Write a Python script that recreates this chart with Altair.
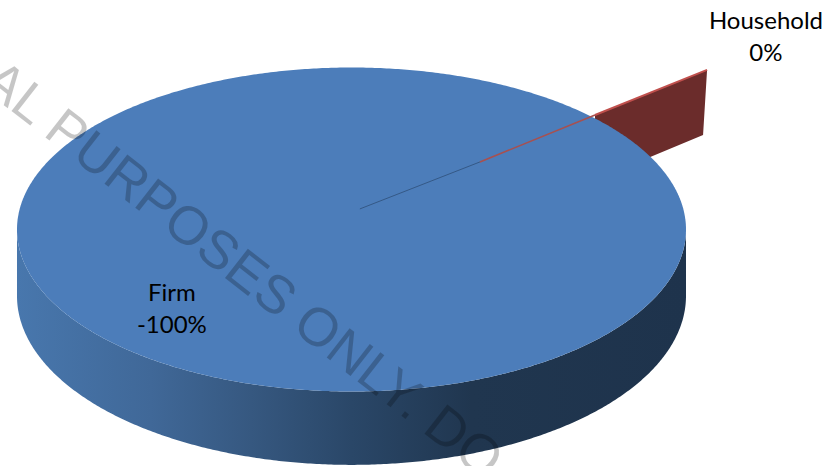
import numpy as np
import pandas as pd
import altair as alt

# Pie shares and their captions
segments = ["Firm", "Household"]
shares = [-100, 0]

# Pie-disc units: the rim is the unit circle and the scales foreshorten it
x_domain = [-1.0508, 1.4335]
y_domain = [-1.4599, 1.4167]
side_drop = -0.41
side_stretch = 1.043

# Detached Household sliver, in the same units
sliver_x = [0.728, 1.051, 1.063]
sliver_top = [0.707, 0.975, 0.985]
sliver_bottom = [0.306, 0.583, 0.985]
rim_edge_x = [0.728, 1.063]
rim_edge_y = [0.707, 0.985]
seam_dark_x = [0.025, 0.384]
seam_dark_y = [0.127, 0.417]
seam_red_x = [0.384, 0.728]
seam_red_y = [0.417, 0.707]

# Caption anchors, one row per text line
caption_x = [-0.537, -0.537, 1.239, 1.239]
caption_y = [-0.398, -0.596, 1.281, 1.085]

watermark = "AL PURPOSES ONLY. DO"
watermark_x = [-0.327]
watermark_y = [-0.256]

x_scale = alt.Scale(domain=x_domain, nice=False, zero=False)
y_scale = alt.Scale(domain=y_domain, nice=False, zero=False)
X = alt.X("x:Q", scale=x_scale, axis=None)
Y = alt.Y("y:Q", scale=y_scale, axis=None)

theta = np.linspace(0, np.pi, 361)
rim = pd.DataFrame({
    "x": np.cos(theta),
    "y": np.sin(theta),
    "y2": -np.sin(theta),
})
wall = pd.DataFrame({
    "x": np.cos(theta),
    "y": -np.sin(theta),
    "y2": side_drop - side_stretch * np.sin(theta),
})

side_fill = alt.Gradient(
    gradient="linear",
    x1=0, x2=1, y1=0, y2=0,
    stops=[
        alt.GradientStop(offset=0.0, color="#4877ad"),
        alt.GradientStop(offset=0.2, color="#406898"),
        alt.GradientStop(offset=0.35, color="#365880"),
        alt.GradientStop(offset=0.5, color="#2a4768"),
        alt.GradientStop(offset=0.68, color="#20364f"),
        alt.GradientStop(offset=1.0, color="#1e334c"),
    ],
)

sliver = alt.Chart(pd.DataFrame({"x": sliver_x, "y": sliver_top, "y2": sliver_bottom})).mark_area(
    color="#6b2c2b"
).encode(x=X, y=Y, y2="y2:Q")

rim_edge = alt.Chart(pd.DataFrame({"x": rim_edge_x, "y": rim_edge_y})).mark_line(
    color="#c0504d", strokeWidth=2
).encode(x=X, y=Y)

side = alt.Chart(wall).mark_area(color=side_fill).encode(x=X, y=Y, y2="y2:Q")

top = alt.Chart(rim).mark_area(color="#4c7dba").encode(x=X, y=Y, y2="y2:Q")

seam_dark = alt.Chart(pd.DataFrame({"x": seam_dark_x, "y": seam_dark_y})).mark_line(
    color="#2f4f78", strokeWidth=0.8
).encode(x=X, y=Y)

seam_red = alt.Chart(pd.DataFrame({"x": seam_red_x, "y": seam_red_y})).mark_line(
    color="#a8504f", strokeWidth=1.6
).encode(x=X, y=Y)

stamp = alt.Chart(pd.DataFrame({"x": watermark_x, "y": watermark_y, "t": [watermark]})).mark_text(
    angle=38, align="center", baseline="middle", font="Liberation Sans",
    fontSize=54, color="#000000", opacity=0.22, clip=True,
).encode(x=X, y=Y, text="t:N")

caption_text = []
for name, value in zip(segments, shares):
    caption_text += [name, f"{value}%"]

captions = alt.Chart(pd.DataFrame({"x": caption_x, "y": caption_y, "t": caption_text})).mark_text(
    align="center", baseline="middle", font="Lato", fontSize=24, color="#000000",
).encode(x=X, y=Y, text="t:N")

chart = alt.layer(sliver, rim_edge, side, top, seam_dark, seam_red, stamp, captions).properties(
    width=831,
    height=466,
    padding=0,
    autosize=alt.AutoSizeParams(type="none"),
    background="white",
).configure_view(stroke=None)

chart.save("out.html", embed_options={"renderer": "svg", "actions": False})
